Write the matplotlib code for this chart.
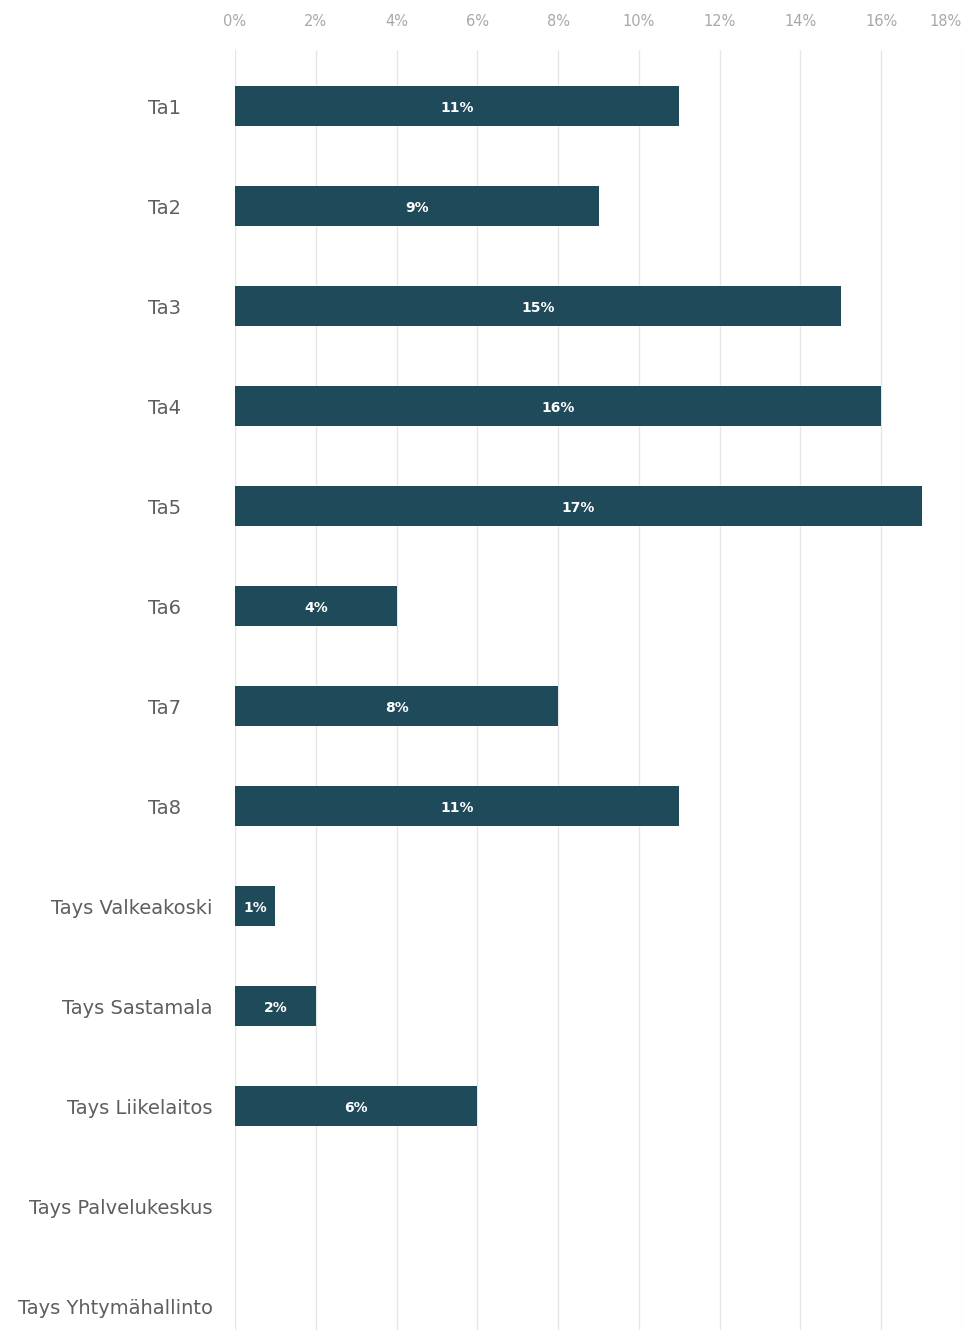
import matplotlib
matplotlib.use("Agg")
from matplotlib import pyplot as plt
from matplotlib.ticker import PercentFormatter

categories = ["Ta1", "Ta2", "Ta3", "Ta4", "Ta5", "Ta6", "Ta7", "Ta8",
              "Tays Valkeakoski", "Tays Sastamala", "Tays Liikelaitos",
              "Tays Palvelukeskus", "Tays Yhtymähallinto"]
values = [11, 9, 15, 16, 17, 4, 8, 11, 1, 2, 6, 0, 0]
xticks = [0, 2, 4, 6, 8, 10, 12, 14, 16, 18]

BAR_COLOR = "#1f4a5a"

fig = plt.figure(figsize=(9.66, 13.3), dpi=100)
ax = fig.add_axes([235 / 966, 0.0, (962 - 235) / 966, 1 - 50 / 1330])

ypos = list(range(len(categories)))
bars = ax.barh(ypos, values, height=0.4, color=BAR_COLOR, zorder=3)

# value labels inside bars
for y, v in zip(ypos, values):
    if v > 0:
        ax.text(v / 2, y + 0.02, "{}%".format(v), ha="center", va="center",
                color="white", fontsize=10, fontweight="bold", zorder=4)

ax.set_xlim(0, 18)
ax.set_ylim(12.24, -0.56)
ax.set_xticks(xticks)
ax.xaxis.set_major_formatter(PercentFormatter(decimals=0))
ax.xaxis.tick_top()
ax.tick_params(axis="x", length=0, pad=15, labelsize=10.5, labelcolor="#a8a8a8")
ax.tick_params(axis="y", length=0, labelsize=14, labelcolor="#5e5e5e")
ax.set_yticks(ypos)
ax.set_yticklabels(categories)

# last tick label would fall off the edge, keep it inside
ax.get_xticklabels()[-1].set_horizontalalignment("right")

# Ta labels sit a bit further left than the Tays ones
for i, tick in enumerate(ax.yaxis.get_major_ticks()):
    tick.set_pad(39 if i < 8 else 16)

ax.grid(axis="x", color="#e6e6e6", linewidth=1, zorder=0)
ax.grid(axis="y", visible=False)
for s in ax.spines.values():
    s.set_visible(False)

plt.savefig("out.png", dpi=100)
